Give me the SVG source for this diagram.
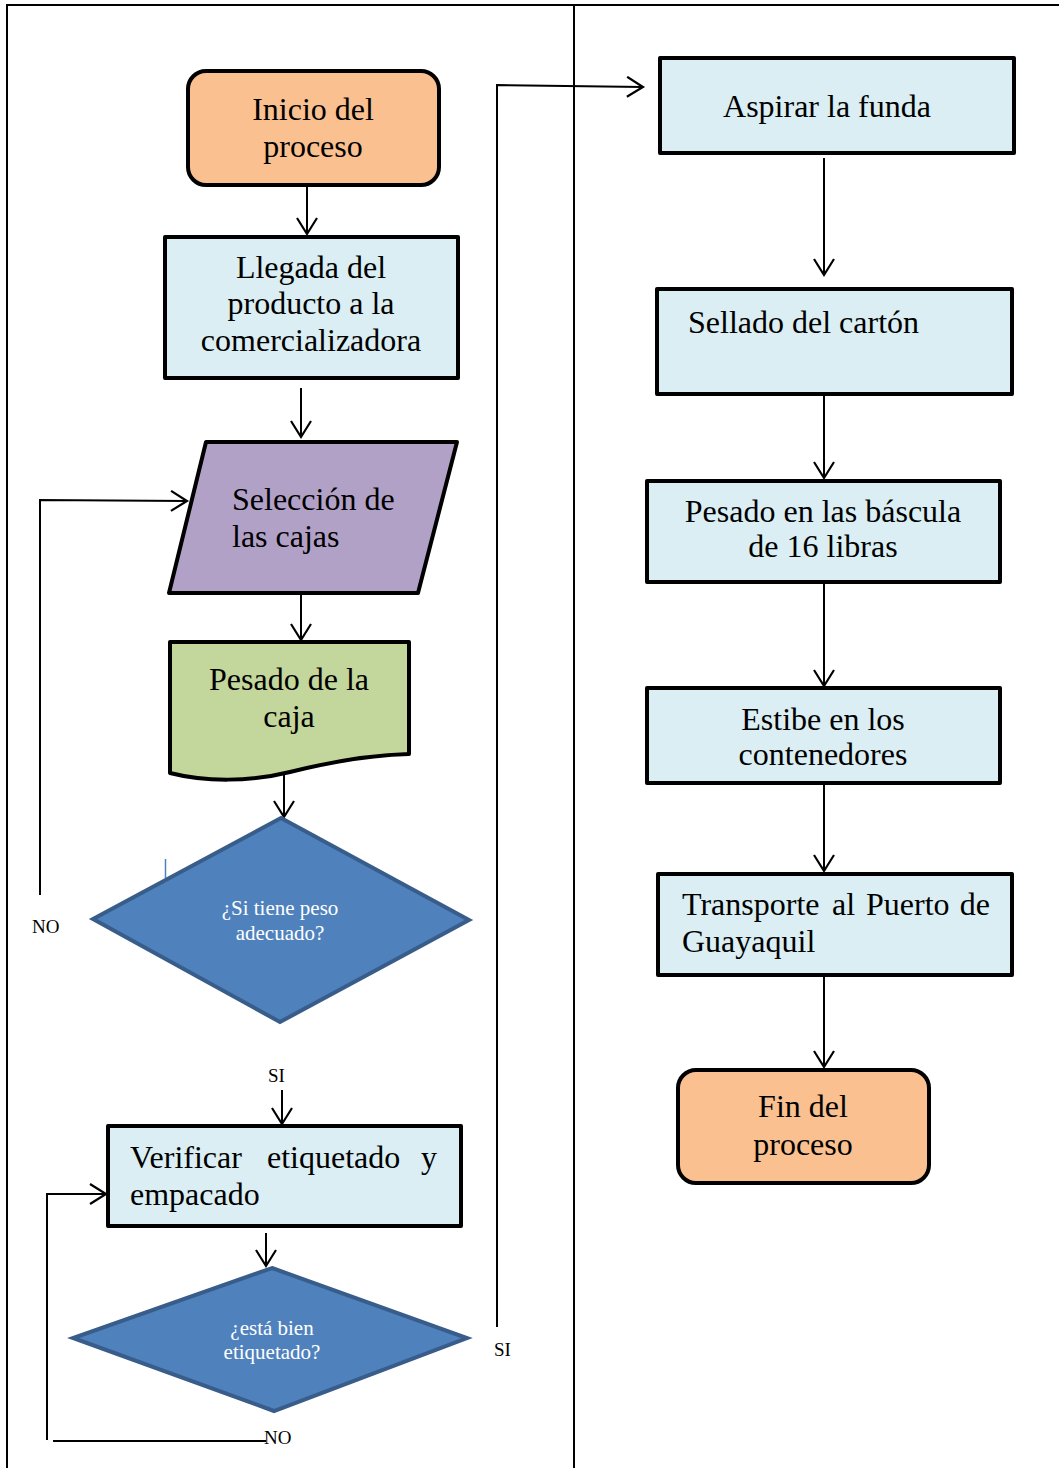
<svg xmlns="http://www.w3.org/2000/svg" width="1059" height="1468" viewBox="0 0 1059 1468">
<style>
  .frame{fill:none;stroke:#000;stroke-width:2}
  .box{stroke:#000;stroke-width:4;stroke-linejoin:round}
  .proc{fill:#DAEEF3}
  .term{fill:#FAC090}
  .io{fill:#B2A1C7}
  .doc{fill:#C3D69B}
  .dec{fill:#4F81BD;stroke:#385D8A;stroke-width:4;stroke-linejoin:miter}
  .t{font-family:"Liberation Serif","Times New Roman",serif;font-size:32px;fill:#000}
  .c{text-anchor:middle}
  .dt{font-family:"Liberation Serif","Times New Roman",serif;font-size:21px;fill:#fff;text-anchor:middle}
  .lbl{font-family:"Liberation Serif","Times New Roman",serif;font-size:19px;fill:#000}
  .con{fill:none;stroke:#000;stroke-width:2}
</style>
<defs>
  <marker id="arr" markerUnits="userSpaceOnUse" markerWidth="22" markerHeight="22" viewBox="0 0 22 22" refX="19" refY="11" orient="auto">
    <path d="M3,1 L19,11 L3,21" fill="none" stroke="#000" stroke-width="2.2"/>
  </marker>
</defs>
<rect width="1059" height="1468" fill="#fff"/>
<g id="frame">
  <path class="frame" d="M7,1468 V5 H1059"/>
  <line class="frame" x1="574" y1="5" x2="574" y2="1468"/>
</g>
<g id="connectors">
  <line class="con" x1="307" y1="185" x2="307" y2="234" marker-end="url(#arr)"/>
  <line class="con" x1="301" y1="388" x2="301" y2="437" marker-end="url(#arr)"/>
  <line class="con" x1="301" y1="594" x2="301" y2="640" marker-end="url(#arr)"/>
  <line class="con" x1="284" y1="770" x2="284" y2="817" marker-end="url(#arr)"/>
  <polyline class="con" points="40,895 40,500 187,501" marker-end="url(#arr)"/>
  <line class="con" x1="282" y1="1090" x2="282" y2="1124" marker-end="url(#arr)"/>
  <line class="con" x1="266" y1="1233" x2="266" y2="1266" marker-end="url(#arr)"/>
  <polyline class="con" points="47,1440 47,1194 106,1194" marker-end="url(#arr)"/>
  <line class="con" x1="53" y1="1441" x2="266" y2="1441"/>
  <polyline class="con" points="497,1327 497,85 643,87" marker-end="url(#arr)"/>
  <line class="con" x1="824" y1="158" x2="824" y2="275" marker-end="url(#arr)"/>
  <line class="con" x1="824" y1="388" x2="824" y2="478" marker-end="url(#arr)"/>
  <line class="con" x1="824" y1="570" x2="824" y2="686" marker-end="url(#arr)"/>
  <line class="con" x1="824" y1="784" x2="824" y2="871" marker-end="url(#arr)"/>
  <line class="con" x1="824" y1="976" x2="824" y2="1067" marker-end="url(#arr)"/>
  <line x1="165.5" y1="859" x2="165.5" y2="878" stroke="#4F81BD" stroke-width="1.5"/>
  <text class="lbl" x="32" y="933">NO</text>
  <text class="lbl" x="268" y="1082">SI</text>
  <text class="lbl" x="264" y="1444">NO</text>
  <text class="lbl" x="494" y="1356">SI</text>
</g>
<g id="inicio">
  <rect class="box term" x="188" y="71" width="251" height="114" rx="18"/>
  <text class="t c" x="313" y="120">Inicio del</text>
  <text class="t c" x="313" y="157">proceso</text>
</g>
<g id="llegada">
  <rect class="box proc" x="165" y="237" width="293" height="141"/>
  <text class="t c" x="311" y="278">Llegada del</text>
  <text class="t c" x="311" y="314">producto a la</text>
  <text class="t c" x="311" y="351">comercializadora</text>
</g>
<g id="seleccion">
  <polygon class="box io" points="206,442 457,442 418,593 169,593"/>
  <text class="t" x="232" y="510">Selección de</text>
  <text class="t" x="232" y="547">las cajas</text>
</g>
<g id="pesado-caja">
  <path class="box doc" d="M170,642 H409 V754 C370,755 330,762 290,772 C250,782 205,782 170,773 Z"/>
  <text class="t c" x="289" y="690">Pesado de la</text>
  <text class="t c" x="289" y="727">caja</text>
</g>
<g id="decision-peso">
  <polygon class="dec" points="281,818 469,920 280,1022 93,919"/>
  <text class="dt" x="280" y="915">¿Si tiene peso</text>
  <text class="dt" x="280" y="940">adecuado?</text>
</g>
<g id="verificar">
  <rect class="box proc" x="108" y="1126" width="353" height="100"/>
  <text class="t"><tspan x="130" y="1168">Verificar</tspan><tspan x="267" y="1168">etiquetado</tspan><tspan x="437" y="1168" text-anchor="end">y</tspan></text>
  <text class="t" x="130" y="1205">empacado</text>
</g>
<g id="decision-etiqueta">
  <polygon class="dec" points="272,1268 467,1338 274,1411 73,1338"/>
  <text class="dt" x="272" y="1335">¿está bien</text>
  <text class="dt" x="272" y="1359">etiquetado?</text>
</g>
<g id="aspirar">
  <rect class="box proc" x="660" y="58" width="354" height="95"/>
  <text class="t c" x="827" y="117">Aspirar la funda</text>
</g>
<g id="sellado">
  <rect class="box proc" x="657" y="289" width="355" height="105"/>
  <text class="t" x="688" y="333">Sellado del cartón</text>
</g>
<g id="pesado-bascula">
  <rect class="box proc" x="647" y="481" width="353" height="101"/>
  <text class="t c" x="823" y="522">Pesado en las báscula</text>
  <text class="t c" x="823" y="557">de 16 libras</text>
</g>
<g id="estibe">
  <rect class="box proc" x="647" y="688" width="353" height="95"/>
  <text class="t c" x="823" y="730">Estibe en los</text>
  <text class="t c" x="823" y="765">contenedores</text>
</g>
<g id="transporte">
  <rect class="box proc" x="658" y="874" width="354" height="101"/>
  <text class="t"><tspan x="682" y="915">Transporte</tspan><tspan x="832" y="915">al</tspan><tspan x="866" y="915">Puerto</tspan><tspan x="990" y="915" text-anchor="end">de</tspan></text>
  <text class="t" x="682" y="952">Guayaquil</text>
</g>
<g id="fin">
  <rect class="box term" x="678" y="1070" width="251" height="113" rx="18"/>
  <text class="t c" x="803" y="1117">Fin del</text>
  <text class="t c" x="803" y="1155">proceso</text>
</g>
</svg>
